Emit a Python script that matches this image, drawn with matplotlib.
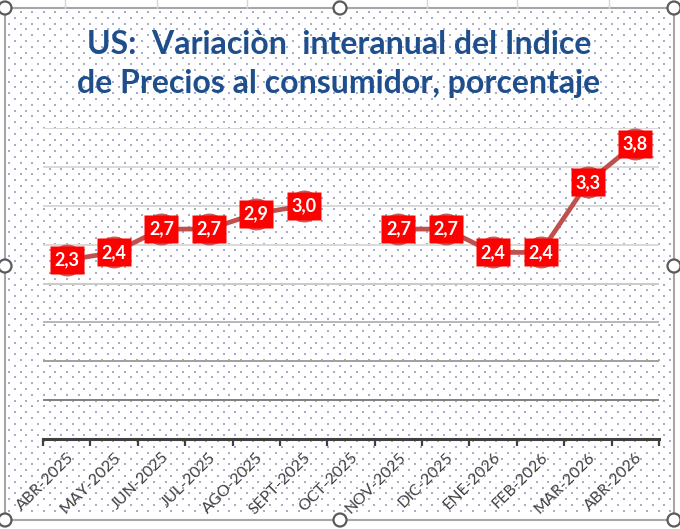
import numpy as np
import matplotlib
matplotlib.use('Agg')
import matplotlib.pyplot as plt

# Data
months = ['ABR-2025', 'MAY-2025', 'JUN-2025', 'JUL-2025', 'AGO-2025', 'SEPT-2025',
          'OCT-2025', 'NOV-2025', 'DIC-2025', 'ENE-2026', 'FEB-2026', 'MAR-2026', 'ABR-2026']
cpi = [2.3, 2.4, 2.7, 2.7, 2.9, 3.0, np.nan, 2.7, 2.7, 2.4, 2.4, 3.3, 3.8]
grid_levels = [0.5, 1.0, 1.5, 2.0, 2.5, 3.0, 3.5, 4.0]
grid_colors = ['#808080', '#a0a0a0', '#b8b8b8', '#cacaca', '#d9d9d9', '#d9d9d9', '#d9d9d9', '#d9d9d9']

W, H = 680, 529
fig = plt.figure(figsize=(W / 100, H / 100), dpi=100)
fig.patch.set_facecolor('white')

# background layer in pixel coords: cell lines, frame, dot pattern
bg = fig.add_axes([0, 0, 1, 1], zorder=0)
bg.set_xlim(0, W)
bg.set_ylim(H, 0)
bg.axis('off')
for cx in [65, 157, 247, 337, 427, 517, 609]:
    bg.plot([cx, cx], [0, 8], color='#d6d6d6', lw=1)
step = 11.6
xs1, ys1 = np.meshgrid(np.arange(9, 671, step), np.arange(12, 516, step))
xs2, ys2 = np.meshgrid(np.arange(9 + step / 2, 671, step), np.arange(12 + step / 2, 516, step))
bg.scatter(np.r_[xs1.ravel(), xs2.ravel()], np.r_[ys1.ravel(), ys2.ravel()],
           s=1.2, marker='s', color='#a6abd0', linewidths=0)
bg.add_patch(plt.Rectangle((5, 8), 669, 512, fill=False, ec='#a6a6a6', lw=1.5))

# title
title_color = '#1F4E8C'
fig.text(339 / W, 1 - 45 / H, 'US:  Variaciòn  interanual del Indice', ha='center', va='center',
         fontsize=23, fontweight='bold', color=title_color, family='Lato')
fig.text(339 / W, 1 - 84 / H, 'de Precios al consumidor, porcentaje', ha='center', va='center',
         fontsize=23, fontweight='bold', color=title_color, family='Lato')

# main chart
ax = fig.add_axes([43 / W, (H - 439) / H, (659 - 43) / W, (439 - 128) / H], zorder=2)
ax.patch.set_alpha(0)
x = np.arange(len(months))
ax.set_xlim(-0.5, len(months) - 0.5)
ax.set_ylim(0, 4)
for lvl, c in zip(grid_levels, grid_colors):
    ax.axhline(lvl, color=c, lw=1.4, zorder=1)

ax.plot(x, cpi, color='#C0504D', lw=3.4, zorder=3, solid_capstyle='round')
ax.plot(x, cpi, 'o', ms=23, color='#C0504D', alpha=0.9, zorder=4, mec='none', clip_on=False)
box = [(-1, -0.8), (1, -0.8), (1, 0.8), (-1, 0.8), (-1, -0.8)]
ax.plot(x, cpi, ls='none', marker=box, ms=24.5, color='#FF0000', mec='none', zorder=5, clip_on=False)
for xi, v in zip(x, cpi):
    if not np.isnan(v):
        ax.text(xi, v, f'{v:.1f}'.replace('.', ','), ha='center', va='center', color='white',
                fontsize=13, fontweight='bold', family='Lato', zorder=6)

for s in ['top', 'right', 'left']:
    ax.spines[s].set_visible(False)
ax.spines['bottom'].set_color('#404040')
ax.spines['bottom'].set_linewidth(2.2)
ax.set_yticks([])
ax.set_xticks(x)
ax.set_xticklabels(months, rotation=45, ha='right', rotation_mode='anchor',
                   fontsize=11.5, color='#404040', family='Lato')
ax.set_xticks(np.arange(-0.5, len(months)), minor=True)
ax.tick_params(axis='x', which='major', length=0, pad=8)
ax.tick_params(axis='x', which='minor', length=5, width=1.6, color='#404040')

# selection handles on top
ov = fig.add_axes([0, 0, 1, 1], zorder=10)
ov.set_xlim(0, W)
ov.set_ylim(H, 0)
ov.axis('off')
ov.patch.set_alpha(0)
for hx, hy in [(5, 8), (340, 8), (674, 8), (5, 266), (674, 266), (5, 520), (340, 520), (674, 520)]:
    ov.add_patch(plt.Circle((hx, hy), 6.5, fc='white', ec='#5a5a5a', lw=1.6, clip_on=False))

fig.savefig('out.png', dpi=100)
